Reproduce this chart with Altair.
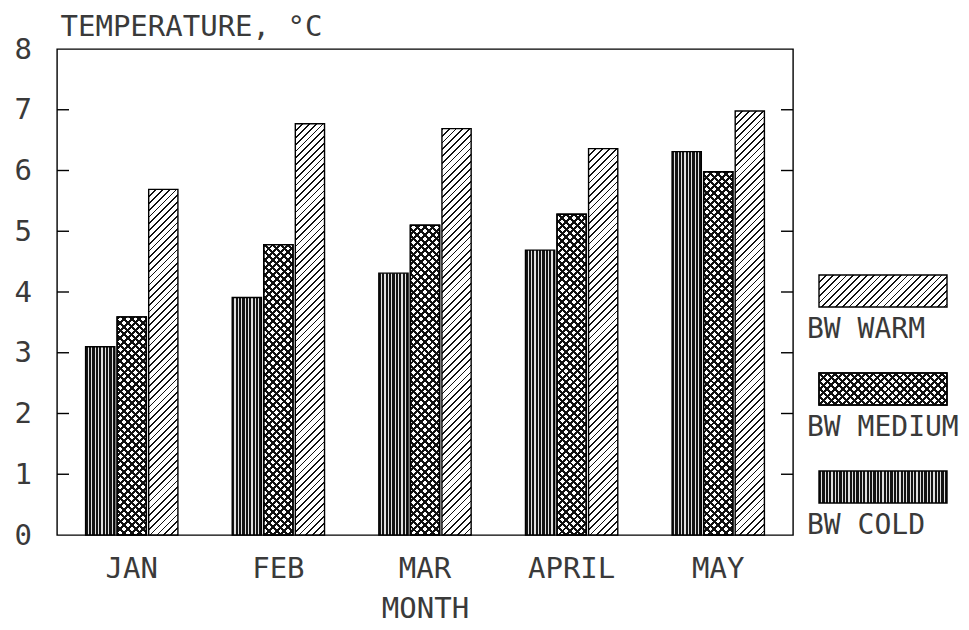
import math
import altair as alt

# ---------------- data ----------------
months = ["JAN", "FEB", "MAR", "APRIL", "MAY"]
series = ["BW COLD", "BW MEDIUM", "BW WARM"]
cold = [3.10, 3.91, 4.31, 4.69, 6.31]
medium = [3.59, 4.78, 5.10, 5.28, 5.98]
warm = [5.69, 6.77, 6.69, 6.36, 6.98]
y_ticks = [0, 1, 2, 3, 4, 5, 6, 7, 8]
inner_ticks = [1, 2, 3, 4, 5, 6, 7]
legend_order = ["BW WARM", "BW MEDIUM", "BW COLD"]

# ---------------- layout / style ----------------
W, H = 736, 486
YMAX = 8
PI_OUT, PO_OUT = 0.3704, 0.195
PI_IN = 0.074
FONT = "DejaVu Sans Mono"
FS = 29
TXT = "#3a3a3a"

step = W / (len(months) - PI_OUT + 2 * PO_OUT)
band = step * (1 - PI_OUT)
istep = band / (len(series) - PI_IN)
BW = istep * (1 - PI_IN)


def stripes(length, period, on, c_on, c_off):
    stops = []
    k = 0
    while k * period < length:
        a = k * period / length
        b = min((k * period + on) / length, 1)
        c = min((k + 1) * period / length, 1)
        stops += [
            {"offset": round(a, 5), "color": c_on},
            {"offset": round(b, 5), "color": c_on},
            {"offset": round(b, 5), "color": c_off},
            {"offset": round(c, 5), "color": c_off},
        ]
        k += 1
    return stops


def grad_vertical(w, h, period=3.4, on=2.2, c_on="#151515", c_off="#e0e0e0"):
    return {"gradient": "linear", "x1": 0, "y1": 0, "x2": 1, "y2": 0,
            "stops": stripes(w, period, on, c_on, c_off)}


def grad_up(w, h, period=4.8, on=1.2, c_on="#111", c_off="#ffffff"):
    # lines x + y = c  ("////") in screen space, bbox units
    k = (w + h) / (w * w + h * h)
    d = (w + h) / math.sqrt(2)
    return {"gradient": "linear", "x1": 0, "y1": 0,
            "x2": k * w, "y2": k * h,
            "stops": stripes(d, period, on, c_on, c_off)}


def grad_down(w, h, period=5.4, on=2.1, c_on="#111", c_off="#ffffff"):
    # lines x - y = c  ("\\\\") in screen space, bbox units
    k = (w + h) / (w * w + h * h)
    d = (w + h) / math.sqrt(2)
    return {"gradient": "linear", "x1": 0, "y1": 1,
            "x2": k * w, "y2": 1 - k * h,
            "stops": stripes(d, period, on, c_on, c_off)}


def fills(s, w, h):
    if s == "BW COLD":
        return grad_vertical(w, h), None
    if s == "BW MEDIUM":
        return grad_down(w, h), grad_up(w, h, period=5.4, on=2.1, c_off="rgba(255,255,255,0)")
    return grad_up(w, h), None


rows = []
for i, m in enumerate(months):
    for s, vals in zip(series, [cold, medium, warm]):
        v = vals[i]
        g1, g2 = fills(s, BW, v * H / YMAX)
        r = {"month": m, "series": s, "value": v, "g1": g1}
        if g2 is not None:
            r["g2"] = g2
        rows.append(r)

LW, LH = 128, 32
leg_rows = []
for s in legend_order:
    g1, g2 = fills(s, LW, LH)
    r = {"label": s, "g1": g1}
    if g2 is not None:
        r["g2"] = g2
    leg_rows.append(r)

# ---------------- encodings ----------------
x_enc = alt.X("month:N", sort=months,
              scale=alt.Scale(domain=months, paddingInner=PI_OUT, paddingOuter=PO_OUT),
              axis=alt.Axis(title="MONTH", labelAngle=0, ticks=False, domain=False,
                            labelFont=FONT, labelFontSize=FS, labelColor=TXT,
                            labelPadding=19, titleFont=FONT, titleFontSize=FS,
                            titleFontWeight="normal", titleColor=TXT, titlePadding=11))
xo_enc = alt.XOffset("series:N", sort=series,
                     scale=alt.Scale(domain=series, paddingInner=PI_IN, paddingOuter=0))
y_scale = alt.Scale(domain=[0, YMAX], nice=False, zero=True)

bars_data = alt.Data(values=rows)
bars = alt.Chart(bars_data).mark_bar(stroke="black", strokeWidth=1.4).encode(
    x=x_enc,
    xOffset=xo_enc,
    y=alt.Y("value:Q", scale=y_scale,
            axis=alt.Axis(values=y_ticks, title="TEMPERATURE, °C", titleAngle=0,
                          titleX=3, titleY=-14, titleAlign="left",
                          titleBaseline="alphabetic", titleFont=FONT,
                          titleFontSize=FS, titleFontWeight="normal", titleColor=TXT,
                          labelAlign="left", labelBaseline="middle", labelPadding=43,
                          labelFont=FONT, labelFontSize=FS, labelColor=TXT,
                          ticks=False, tickSize=0, domain=False, grid=False)),
    fill=alt.Fill("g1:N", scale=None, legend=None),
)

bars_over = alt.Chart(bars_data).transform_filter(
    alt.datum.series == "BW MEDIUM"
).mark_bar(stroke="black", strokeWidth=1.4).encode(
    x=x_enc,
    xOffset=xo_enc,
    y=alt.Y("value:Q", scale=y_scale, axis=None),
    fill=alt.Fill("g2:N", scale=None, legend=None),
)

ticks_data = alt.Data(values=[{"t": t} for t in inner_ticks])
ticks_left = alt.Chart(ticks_data).mark_tick(orient="horizontal", size=12, thickness=1.4,
                                             color="black", opacity=1).encode(
    y=alt.Y("t:Q", scale=y_scale, axis=None),
    x=alt.value(6),
)
ticks_right = alt.Chart(ticks_data).mark_tick(orient="horizontal", size=12, thickness=1.4,
                                              color="black", opacity=1).encode(
    y=alt.Y("t:Q", scale=y_scale, axis=None),
    x=alt.value(W - 6),
)

leg_scale = alt.Scale(domain=legend_order, range=[226, 454], paddingInner=0.6735,
                      paddingOuter=0)
leg_text_scale = alt.Scale(type="point", domain=legend_order, range=[242, 438], padding=0)
leg_data = alt.Data(values=leg_rows)
leg_box = alt.Chart(leg_data).mark_rect(stroke="black", strokeWidth=1.4).encode(
    y=alt.Y("label:N", sort=legend_order, scale=leg_scale, axis=None),
    x=alt.value(762),
    x2=alt.value(762 + LW),
    fill=alt.Fill("g1:N", scale=None, legend=None),
)
leg_over = alt.Chart(leg_data).transform_filter(
    alt.datum.label == "BW MEDIUM"
).mark_rect(stroke="black", strokeWidth=1.4).encode(
    y=alt.Y("label:N", sort=legend_order, scale=leg_scale, axis=None),
    x=alt.value(762),
    x2=alt.value(762 + LW),
    fill=alt.Fill("g2:N", scale=None, legend=None),
)
leg_text = alt.Chart(leg_data).mark_text(align="left", baseline="middle", dy=39,
                                         font=FONT, fontSize=28, color=TXT).encode(
    y=alt.Y("label:N", sort=legend_order, scale=leg_text_scale, axis=None),
    x=alt.value(750),
    text="label:N",
)

chart = alt.layer(
    bars, bars_over, ticks_left, ticks_right, leg_box, leg_over, leg_text
).resolve_scale(y="independent").properties(
    width=W, height=H,
    autosize=alt.AutoSizeParams(type="none"),
    padding={"left": 49, "top": 41, "right": 167, "bottom": 90},
    background="white",
).configure_view(stroke="black", strokeWidth=1.4)

chart.save("out.html", embed_options={"renderer": "svg", "actions": False})
